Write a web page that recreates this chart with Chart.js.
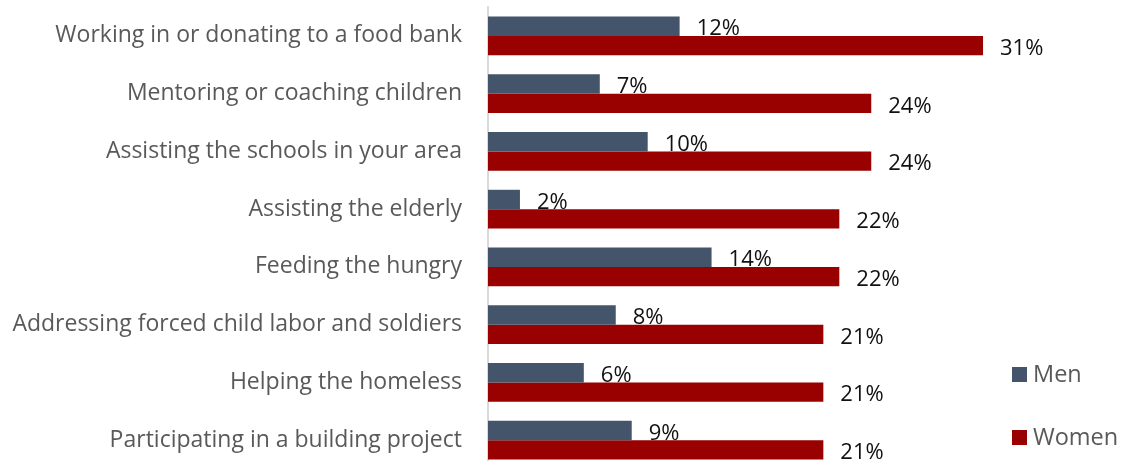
<!DOCTYPE html>
<html>
<head>
<meta charset="utf-8">
<script src="https://cdn.jsdelivr.net/npm/chart.js@4"></script>
<style>
  html, body { margin: 0; padding: 0; background: #fff; overflow: hidden; }
  #wrap { position: relative; width: 1123px; height: 476px; }
</style>
</head>
<body>
<div id="wrap"><canvas id="chart"></canvas></div>
<script>
// Dati del grafico
const categories = [
    'Working in or donating to a food bank',
    'Mentoring or coaching children',
    'Assisting the schools in your area',
    'Assisting the elderly',
    'Feeding the hungry',
    'Addressing forced child labor and soldiers',
    'Helping the homeless',
    'Participating in a building project'
];
const menValues = [12, 7, 10, 2, 14, 8, 6, 9];
const womenValues = [31, 24, 24, 22, 22, 21, 21, 21];
const seriesNames = ['Men', 'Women'];
const seriesColors = ['#44546a', '#990000'];

const FONT = '"Open Sans", sans-serif';

// etichette dei valori a destra di ogni barra
const valueLabels = {
    id: 'valueLabels',
    afterDatasetsDraw(chart) {
        const ctx = chart.ctx;
        ctx.save();
        ctx.font = '22px ' + FONT;
        ctx.fillStyle = '#111';
        ctx.textAlign = 'left';
        ctx.textBaseline = 'middle';
        chart.data.datasets.forEach((ds, i) => {
            chart.getDatasetMeta(i).data.forEach((bar, j) => {
                ctx.fillText(ds.data[j] + '%', bar.x + 17, bar.y + 3);
            });
        });
        ctx.restore();
    }
};

// legenda verticale in basso a destra
const sideLegend = {
    id: 'sideLegend',
    afterDraw(chart) {
        const ctx = chart.ctx;
        const rows = [374, 437];
        ctx.save();
        ctx.font = '23.5px ' + FONT;
        ctx.textBaseline = 'middle';
        ctx.textAlign = 'left';
        chart.data.datasets.forEach((ds, i) => {
            ctx.fillStyle = ds.backgroundColor;
            ctx.fillRect(1012, rows[i] - 7, 15, 15);
            ctx.fillStyle = '#595959';
            ctx.fillText(ds.label, 1033, rows[i] + 1);
        });
        ctx.restore();
    }
};

window.onload = () => {
    new Chart(document.getElementById('chart').getContext('2d'), {
        type: 'bar',
        data: {
            labels: categories,
            datasets: [
                { label: seriesNames[0], data: menValues, backgroundColor: seriesColors[0] },
                { label: seriesNames[1], data: womenValues, backgroundColor: seriesColors[1] }
            ]
        },
        options: {
            indexAxis: 'y',
            responsive: true,
            maintainAspectRatio: false,
            animation: false,
            layout: { padding: { top: 7, bottom: 7, left: 0, right: 124 } },
            datasets: { bar: { categoryPercentage: 0.67, barPercentage: 1.0 } },
            plugins: {
                legend: { display: false },
                tooltip: { enabled: false }
            },
            scales: {
                x: { display: false, min: 0, max: 32 },
                y: {
                    afterFit: (scale) => {
                        scale.width = 488;
                        scale.paddingTop = 0;
                        scale.paddingBottom = 0;
                    },
                    grid: { display: false, drawTicks: false },
                    border: { display: true, color: '#d9d9d9', width: 2 },
                    ticks: {
                        padding: 26,
                        color: '#595959',
                        font: { family: FONT, size: 23 }
                    }
                }
            }
        },
        plugins: [valueLabels, sideLegend]
    });
};
</script>
</body>
</html>
